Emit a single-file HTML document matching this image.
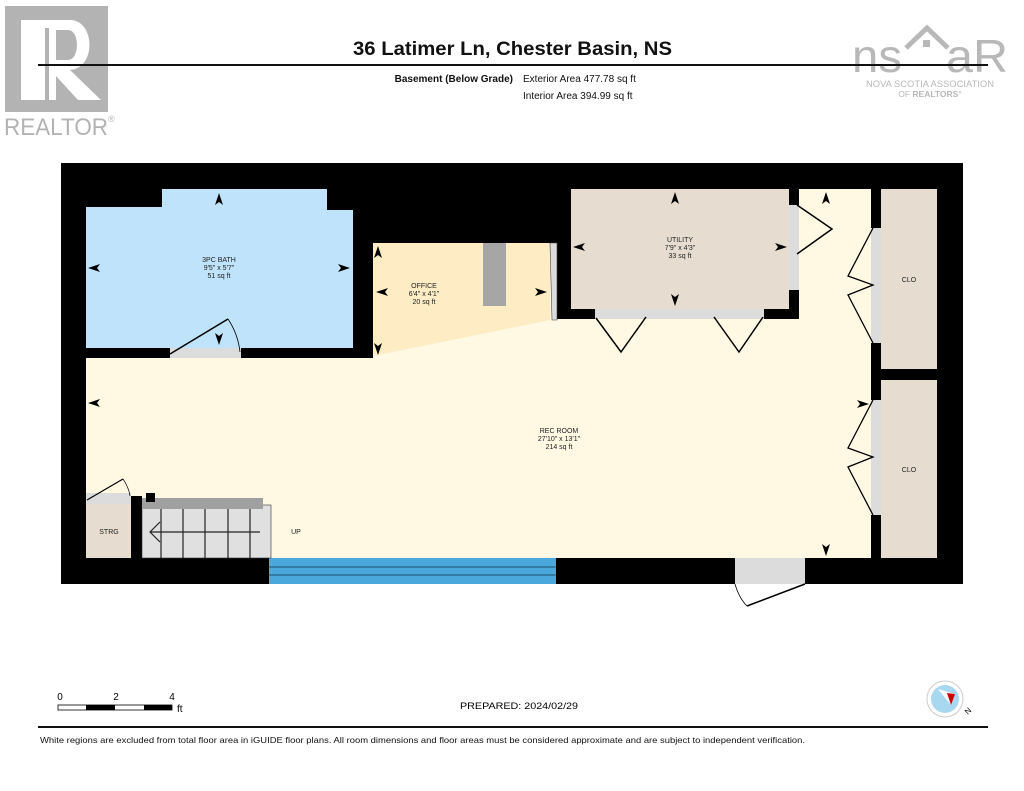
<!DOCTYPE html>
<html><head><meta charset="utf-8"><style>
html,body{margin:0;padding:0;background:#fff;}
svg{display:block;font-family:"Liberation Sans",sans-serif;}
</style></head><body>
<svg width="1024" height="791" viewBox="0 0 1024 791" xmlns="http://www.w3.org/2000/svg">
<!-- REALTOR logo -->
<rect x="5" y="6" width="103" height="106" fill="#b3b3b3"/>
<path d="M21 20 H70 C95 20 97 68 70 70 L101 100 H78 L56 76 V100 H21 Z M56 60 H68 C80 60 80 30 68 30 H56 Z" fill="#fff" fill-rule="evenodd"/>
<rect x="45" y="28" width="4" height="74" fill="#b3b3b3"/>
<text x="4" y="135" font-size="24" fill="#b3b3b3" textLength="104" lengthAdjust="spacingAndGlyphs">REALTOR</text>
<text x="108" y="122" font-size="9" fill="#b3b3b3">®</text>
<!-- NSAR logo -->
<text x="852" y="72" font-size="46" fill="#b8b8b8" textLength="50" lengthAdjust="spacingAndGlyphs">ns</text>
<text x="946" y="72" font-size="46" fill="#b8b8b8" textLength="62" lengthAdjust="spacingAndGlyphs">aR</text>
<polyline points="906,48 927,28 948,48" fill="none" stroke="#b8b8b8" stroke-width="5"/>
<rect x="923" y="40" width="7" height="7" fill="#b8b8b8"/>
<text x="930" y="87" font-size="9" fill="#b8b8b8" text-anchor="middle" textLength="128" lengthAdjust="spacingAndGlyphs">NOVA SCOTIA ASSOCIATION</text>
<text x="930" y="97" font-size="8.5" fill="#b8b8b8" text-anchor="middle">OF <tspan font-weight="bold">REALTORS</tspan>°</text>
<!-- header -->
<text x="353" y="55" font-size="19" font-weight="bold" fill="#111" textLength="319" lengthAdjust="spacingAndGlyphs">36 Latimer Ln, Chester Basin, NS</text>
<rect x="38" y="64" width="950" height="2" fill="#111"/>
<text x="513" y="82" font-size="10" font-weight="bold" text-anchor="end" fill="#111">Basement (Below Grade)</text>
<text x="523" y="82" font-size="10" fill="#111">Exterior Area 477.78 sq ft</text>
<text x="523" y="99" font-size="10" fill="#111">Interior Area 394.99 sq ft</text>
<!-- outer -->
<rect x="61" y="163" width="902" height="421" fill="#000"/>
<!-- rec room -->
<polygon points="86,358 373,358 373,243 557,243 557,319 799,319 799,189 871,189 871,558 86,558" fill="#fff8e3"/>
<!-- office -->
<polygon points="373,243 550,243 550,320 373,356" fill="#fdecc4"/>
<rect x="483" y="243" width="23" height="63" fill="#a6a6a6"/>
<polygon points="550,243 557,243 557,320 552,320" fill="#dcdcdc" stroke="#444" stroke-width="0.6"/>
<!-- bath -->
<polygon points="162,189 327,189 327,210 353,210 353,348 86,348 86,207 162,207" fill="#bfe3fa"/>
<rect x="170" y="348" width="71" height="10" fill="#dcdcdc"/>
<line x1="170" y1="354" x2="228" y2="319" stroke="#000" stroke-width="1.5"/>
<path d="M228 319 Q238 334 240 352" fill="none" stroke="#000" stroke-width="0.8"/>
<!-- utility -->
<rect x="571" y="189" width="218" height="120" fill="#e6ddd0"/>
<rect x="595" y="309" width="169" height="10" fill="#dcdcdc"/>
<rect x="789" y="205" width="10" height="85" fill="#dcdcdc"/>
<polyline points="596,318 621,352 646,317" fill="none" stroke="#000" stroke-width="1.5"/>
<polyline points="714,317 739,352 763,317" fill="none" stroke="#000" stroke-width="1.5"/>
<polyline points="797,205 832,229 797,254" fill="none" stroke="#000" stroke-width="1.5"/>
<!-- closets -->
<rect x="881" y="189" width="56" height="180" fill="#e6ddd0"/>
<rect x="881" y="380" width="56" height="178" fill="#e6ddd0"/>
<rect x="871" y="228" width="10" height="115" fill="#dcdcdc"/>
<rect x="871" y="400" width="10" height="115" fill="#dcdcdc"/>
<polyline points="873,228 848,276 873,285 848,295 873,343" fill="none" stroke="#000" stroke-width="1.3"/>
<polyline points="873,400 848,448 873,457 848,467 873,515" fill="none" stroke="#000" stroke-width="1.3"/>
<!-- bottom window & door -->
<rect x="269" y="558" width="287" height="26" fill="#4aa8dc"/>
<line x1="269" y1="567" x2="556" y2="567" stroke="#1d4f6e" stroke-width="1"/>
<line x1="269" y1="575" x2="556" y2="575" stroke="#1d4f6e" stroke-width="1"/>
<rect x="735" y="558" width="70" height="26" fill="#dcdcdc"/>
<line x1="805" y1="584" x2="747" y2="606" stroke="#000" stroke-width="1.5"/>
<path d="M735 584 Q739 598 747 606" fill="none" stroke="#000" stroke-width="0.8"/>
<!-- storage & stairs -->
<rect x="86" y="493" width="45" height="11" fill="#dcdcdc"/>
<line x1="87" y1="500" x2="123" y2="479" stroke="#000" stroke-width="1.2"/>
<path d="M123 479 Q129 488 130 496" fill="none" stroke="#000" stroke-width="0.7"/>
<rect x="86" y="504" width="45" height="54" fill="#e6ddd0"/>
<rect x="131" y="496" width="11" height="62" fill="#000"/>
<rect x="142" y="505" width="129" height="53" fill="#e0e0e0" stroke="#333" stroke-width="0.6"/>
<rect x="142" y="498" width="121" height="11" fill="#a0a0a0"/>
<rect x="146" y="493" width="9" height="9" fill="#000"/>
<g stroke="#222" stroke-width="1.2">
<line x1="161" y1="509" x2="161" y2="558"/><line x1="183" y1="509" x2="183" y2="558"/><line x1="205" y1="509" x2="205" y2="558"/><line x1="228" y1="509" x2="228" y2="558"/><line x1="250" y1="509" x2="250" y2="558"/>
<line x1="150" y1="532" x2="260" y2="532"/>
<polyline points="160,522 150,532 160,542" fill="none"/>
</g>
<!-- arrows -->
<g fill="#000">
<polygon points="219,193 215,205 219,202 223,205"/>
<polygon points="88,268 100,264 97,268 100,272"/>
<polygon points="350,268 338,264 341,268 338,272"/>
<polygon points="219,345 215,333 219,336 223,333"/>
<polygon points="378,246 374,258 378,255 382,258"/>
<polygon points="376,292 388,288 385,292 388,296"/>
<polygon points="378,355 374,343 378,346 382,343"/>
<polygon points="547,292 535,288 538,292 535,296"/>
<polygon points="675,192 671,204 675,201 679,204"/>
<polygon points="573,247 585,243 582,247 585,251"/>
<polygon points="787,247 775,243 778,247 775,251"/>
<polygon points="675,306 671,294 675,297 679,294"/>
<polygon points="826,192 822,204 826,201 830,204"/>
<polygon points="88,403 100,399 97,403 100,407"/>
<polygon points="869,404 857,400 860,404 857,408"/>
<polygon points="826,556 822,544 826,547 830,544"/>
</g>
<!-- labels -->
<g font-size="7" fill="#222" text-anchor="middle">
<text x="219" y="262">3PC BATH</text><text x="219" y="270">9'5" x 5'7"</text><text x="219" y="278">51 sq ft</text>
<text x="424" y="288">OFFICE</text><text x="424" y="296">6'4" x 4'1"</text><text x="424" y="304">20 sq ft</text>
<text x="680" y="242">UTILITY</text><text x="680" y="250">7'9" x 4'3"</text><text x="680" y="258">33 sq ft</text>
<text x="559" y="433">REC ROOM</text><text x="559" y="441">27'10" x 13'1"</text><text x="559" y="449">214 sq ft</text>
<text x="909" y="282">CLO</text><text x="909" y="472">CLO</text>
<text x="109" y="534">STRG</text>
<text x="296" y="534">UP</text>
</g>
<!-- scale -->
<text x="60" y="700" font-size="10" text-anchor="middle">0</text>
<text x="116" y="700" font-size="10" text-anchor="middle">2</text>
<text x="172" y="700" font-size="10" text-anchor="middle">4</text>
<rect x="58" y="705" width="114" height="5" fill="#fff" stroke="#000" stroke-width="0.8"/>
<rect x="86" y="705" width="29" height="5" fill="#000"/>
<rect x="144" y="705" width="28" height="5" fill="#000"/>
<text x="177" y="712" font-size="10">ft</text>
<text x="460" y="709" font-size="9.5" textLength="118" lengthAdjust="spacingAndGlyphs">PREPARED: 2024/02/29</text>
<!-- compass -->
<circle cx="945" cy="699" r="18" fill="#fff" stroke="#ccc"/>
<circle cx="945" cy="699" r="14" fill="#a8d8f0"/>
<polygon points="938,689 951,705 955,694" fill="#fff"/>
<polygon points="951,705 955,694 947,693" fill="#c00"/>
<text x="965" y="716" font-size="8" transform="rotate(-45 965 712)">N</text>
<rect x="38" y="726" width="950" height="2" fill="#111"/>
<text x="40" y="743" font-size="8.3" fill="#111" textLength="765" lengthAdjust="spacingAndGlyphs">White regions are excluded from total floor area in iGUIDE floor plans. All room dimensions and floor areas must be considered approximate and are subject to independent verification.</text>
</svg>
</body></html>
